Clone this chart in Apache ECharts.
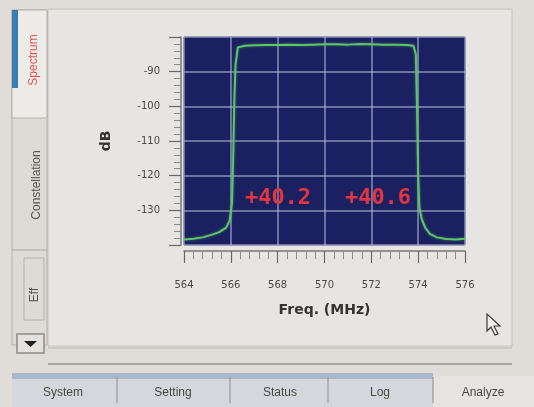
<!DOCTYPE html>
<html>
<head>
<meta charset="utf-8">
<script src="https://cdn.jsdelivr.net/npm/echarts@6/dist/echarts.min.js"></script>
<style>
html, body { margin: 0; padding: 0; background: #e2dfda; }
#main { width: 534px; height: 407px; }
</style>
</head>
<body>
<div id="main"></div>
<script>
// trace (MHz, dB)
var freq = [564.0, 564.4, 564.8, 565.2, 565.5, 565.8, 565.95, 566.05, 566.1, 566.15, 566.2, 566.3, 566.6, 567.0, 567.5, 568.0, 568.5, 569.0, 569.5, 570.0, 570.5, 571.0, 571.5, 572.0, 572.5, 573.0, 573.5, 573.8, 573.9, 573.95, 574.0, 574.05, 574.15, 574.3, 574.5, 574.8, 575.2, 575.6, 576.0];
var level = [-138.4, -138.2, -137.8, -137.0, -136.3, -135.0, -133.0, -128.0, -115.0, -98.0, -88.0, -83.0, -82.5, -82.4, -82.3, -82.3, -82.2, -82.3, -82.2, -82.1, -82.1, -82.2, -82.0, -82.1, -82.2, -82.2, -82.3, -82.5, -85.0, -100.0, -120.0, -129.0, -132.5, -135.0, -136.8, -137.8, -138.3, -138.4, -138.2];
var markerText = ['+40.2', '+40.6'];
var leftTabs = ['Spectrum', 'Constellation', 'Eff'];
var bottomTabs = ['System', 'Setting', 'Status', 'Log', 'Analyze'];

var traceData = freq.map(function(f, i) {
	return [f, level[i]];
});

var myChart = echarts.init(document.getElementById('main'));

var tabFont = '12px "Liberation Sans", sans-serif';
var gfx = [
	// main panel
	{ type: 'rect', shape: { x: 48, y: 9, width: 464, height: 337 }, style: { fill: '#e7e5e1', stroke: '#c4c1bc', lineWidth: 1 }, z: -10 },
	// left tab column
	{ type: 'rect', shape: { x: 12, y: 10, width: 35, height: 335 }, style: { fill: '#dedbd6', stroke: '#b3b0ab', lineWidth: 1 }, z: -9 },
	{ type: 'rect', shape: { x: 12, y: 10, width: 35, height: 108 }, style: { fill: '#ecebe8', stroke: '#b3b0ab', lineWidth: 1 }, z: -8 },
	{ type: 'rect', shape: { x: 12, y: 10, width: 6, height: 78 }, style: { fill: '#3a7db0' }, z: -7 },
	{ type: 'line', shape: { x1: 12, y1: 250, x2: 47, y2: 250 }, style: { stroke: '#a9a6a1', lineWidth: 1 } },
	{ type: 'rect', shape: { x: 24, y: 258, width: 20, height: 62 }, style: { fill: 'none', stroke: '#b3b0ab', lineWidth: 1 } },
	{ type: 'text', x: 34, y: 60, rotation: Math.PI / 2, style: { text: leftTabs[0], fill: '#e0574e', font: tabFont, align: 'center', verticalAlign: 'middle' } },
	{ type: 'text', x: 37, y: 185, rotation: Math.PI / 2, style: { text: leftTabs[1], fill: '#55524e', font: tabFont, align: 'center', verticalAlign: 'middle' } },
	{ type: 'text', x: 35, y: 295, rotation: Math.PI / 2, style: { text: leftTabs[2], fill: '#55524e', font: tabFont, align: 'center', verticalAlign: 'middle' } },
	// down arrow button
	{ type: 'rect', shape: { x: 17, y: 334, width: 27, height: 19 }, style: { fill: '#e4e2df', stroke: '#8f8c88', lineWidth: 1.5 } },
	{ type: 'polygon', shape: { points: [[24, 341], [37, 341], [30.5, 347]] }, style: { fill: '#222' } },
	// scroll lines
	{ type: 'line', shape: { x1: 48, y1: 348, x2: 512, y2: 348 }, style: { stroke: '#b9b6b1', lineWidth: 1 } },
	{ type: 'line', shape: { x1: 48, y1: 364, x2: 512, y2: 364 }, style: { stroke: '#95928d', lineWidth: 1.5 } },
	// bottom tab bar
	{ type: 'rect', shape: { x: 12, y: 373, width: 421, height: 34 }, style: { fill: '#d6d7dc' }, z: -9 },
	{ type: 'rect', shape: { x: 12, y: 373, width: 421, height: 6 }, style: { fill: '#a9b7cd' }, z: -8 },
	{ type: 'rect', shape: { x: 433, y: 376, width: 101, height: 31 }, style: { fill: '#e6e4e0' }, z: -9 }
];

var tabX = [63, 173, 280, 380, 483];
[117, 230, 328, 433].forEach(function(x) {
	gfx.push({ type: 'line', shape: { x1: x, y1: 377, x2: x, y2: 403 }, style: { stroke: '#8e8b87', lineWidth: 1 } });
});
bottomTabs.forEach(function(t, i) {
	gfx.push({ type: 'text', x: tabX[i], y: 393, style: { text: t, fill: '#4a4845', font: tabFont, align: 'center', verticalAlign: 'middle' } });
});

// marker readouts
gfx.push({ type: 'text', x: 278, y: 198, style: { text: markerText[0], fill: '#e2353f', font: 'bold 22px "DejaVu Sans Mono", monospace', align: 'center', verticalAlign: 'middle' }, z: 100 });
gfx.push({ type: 'text', x: 378, y: 198, style: { text: markerText[1], fill: '#e2353f', font: 'bold 22px "DejaVu Sans Mono", monospace', align: 'center', verticalAlign: 'middle' }, z: 100 });

// mouse pointer
gfx.push({ type: 'polygon', shape: { points: [[487, 314], [487, 331], [491, 327], [495, 335], [498, 334], [494, 326], [500, 326]] }, style: { fill: '#f1f0ee', stroke: '#3b3936', lineWidth: 1.2 }, z: 100 });

var option = {
	backgroundColor: '#e0ddd8',
	animation: false,
	grid: {
		left: 184,
		top: 37,
		width: 281,
		height: 208,
		show: true,
		backgroundColor: '#1b2060',
		borderColor: '#12153a',
		borderWidth: 1
	},
	xAxis: {
		type: 'value',
		min: 564,
		max: 576,
		interval: 2,
		offset: 6,
		name: 'Freq. (MHz)',
		nameLocation: 'middle',
		nameGap: 52,
		nameTextStyle: { color: '#333', fontSize: 14, fontWeight: 'bold', fontFamily: 'DejaVu Sans' },
		axisLine: { show: true, lineStyle: { color: '#777', width: 1.5 } },
		axisTick: { show: true, length: 12, lineStyle: { color: '#6a6865', width: 1.2 } },
		minorTick: { show: true, splitNumber: 5, length: 8, lineStyle: { color: '#8a8884' } },
		axisLabel: { color: '#4a4845', fontSize: 10, margin: 29, fontFamily: 'DejaVu Sans' },
		splitLine: { show: true, lineStyle: { color: 'rgba(185,190,225,0.7)', width: 1.5 } }
	},
	yAxis: {
		type: 'value',
		min: -140,
		max: -80,
		interval: 10,
		offset: 3,
		name: 'dB',
		nameLocation: 'middle',
		nameGap: 68,
		nameTextStyle: { color: '#333', fontSize: 14, fontWeight: 'bold', fontFamily: 'DejaVu Sans' },
		axisLine: { show: true, lineStyle: { color: '#777', width: 1.5 } },
		axisTick: { show: true, length: 12, lineStyle: { color: '#6a6865', width: 1.2 } },
		minorTick: { show: true, splitNumber: 5, length: 7, lineStyle: { color: '#8a8884' } },
		axisLabel: { color: '#4a4845', fontSize: 10, margin: 21, fontFamily: 'DejaVu Sans', showMinLabel: false, showMaxLabel: false },
		splitLine: { show: true, lineStyle: { color: 'rgba(185,190,225,0.7)', width: 1.5 } }
	},
	series: [{
		type: 'line',
		data: traceData,
		showSymbol: false,
		lineStyle: { color: '#5cc566', width: 2, shadowColor: 'rgba(90,200,100,0.5)', shadowBlur: 3 },
		z: 5
	}],
	graphic: gfx
};

myChart.setOption(option);
</script>
</body>
</html>
